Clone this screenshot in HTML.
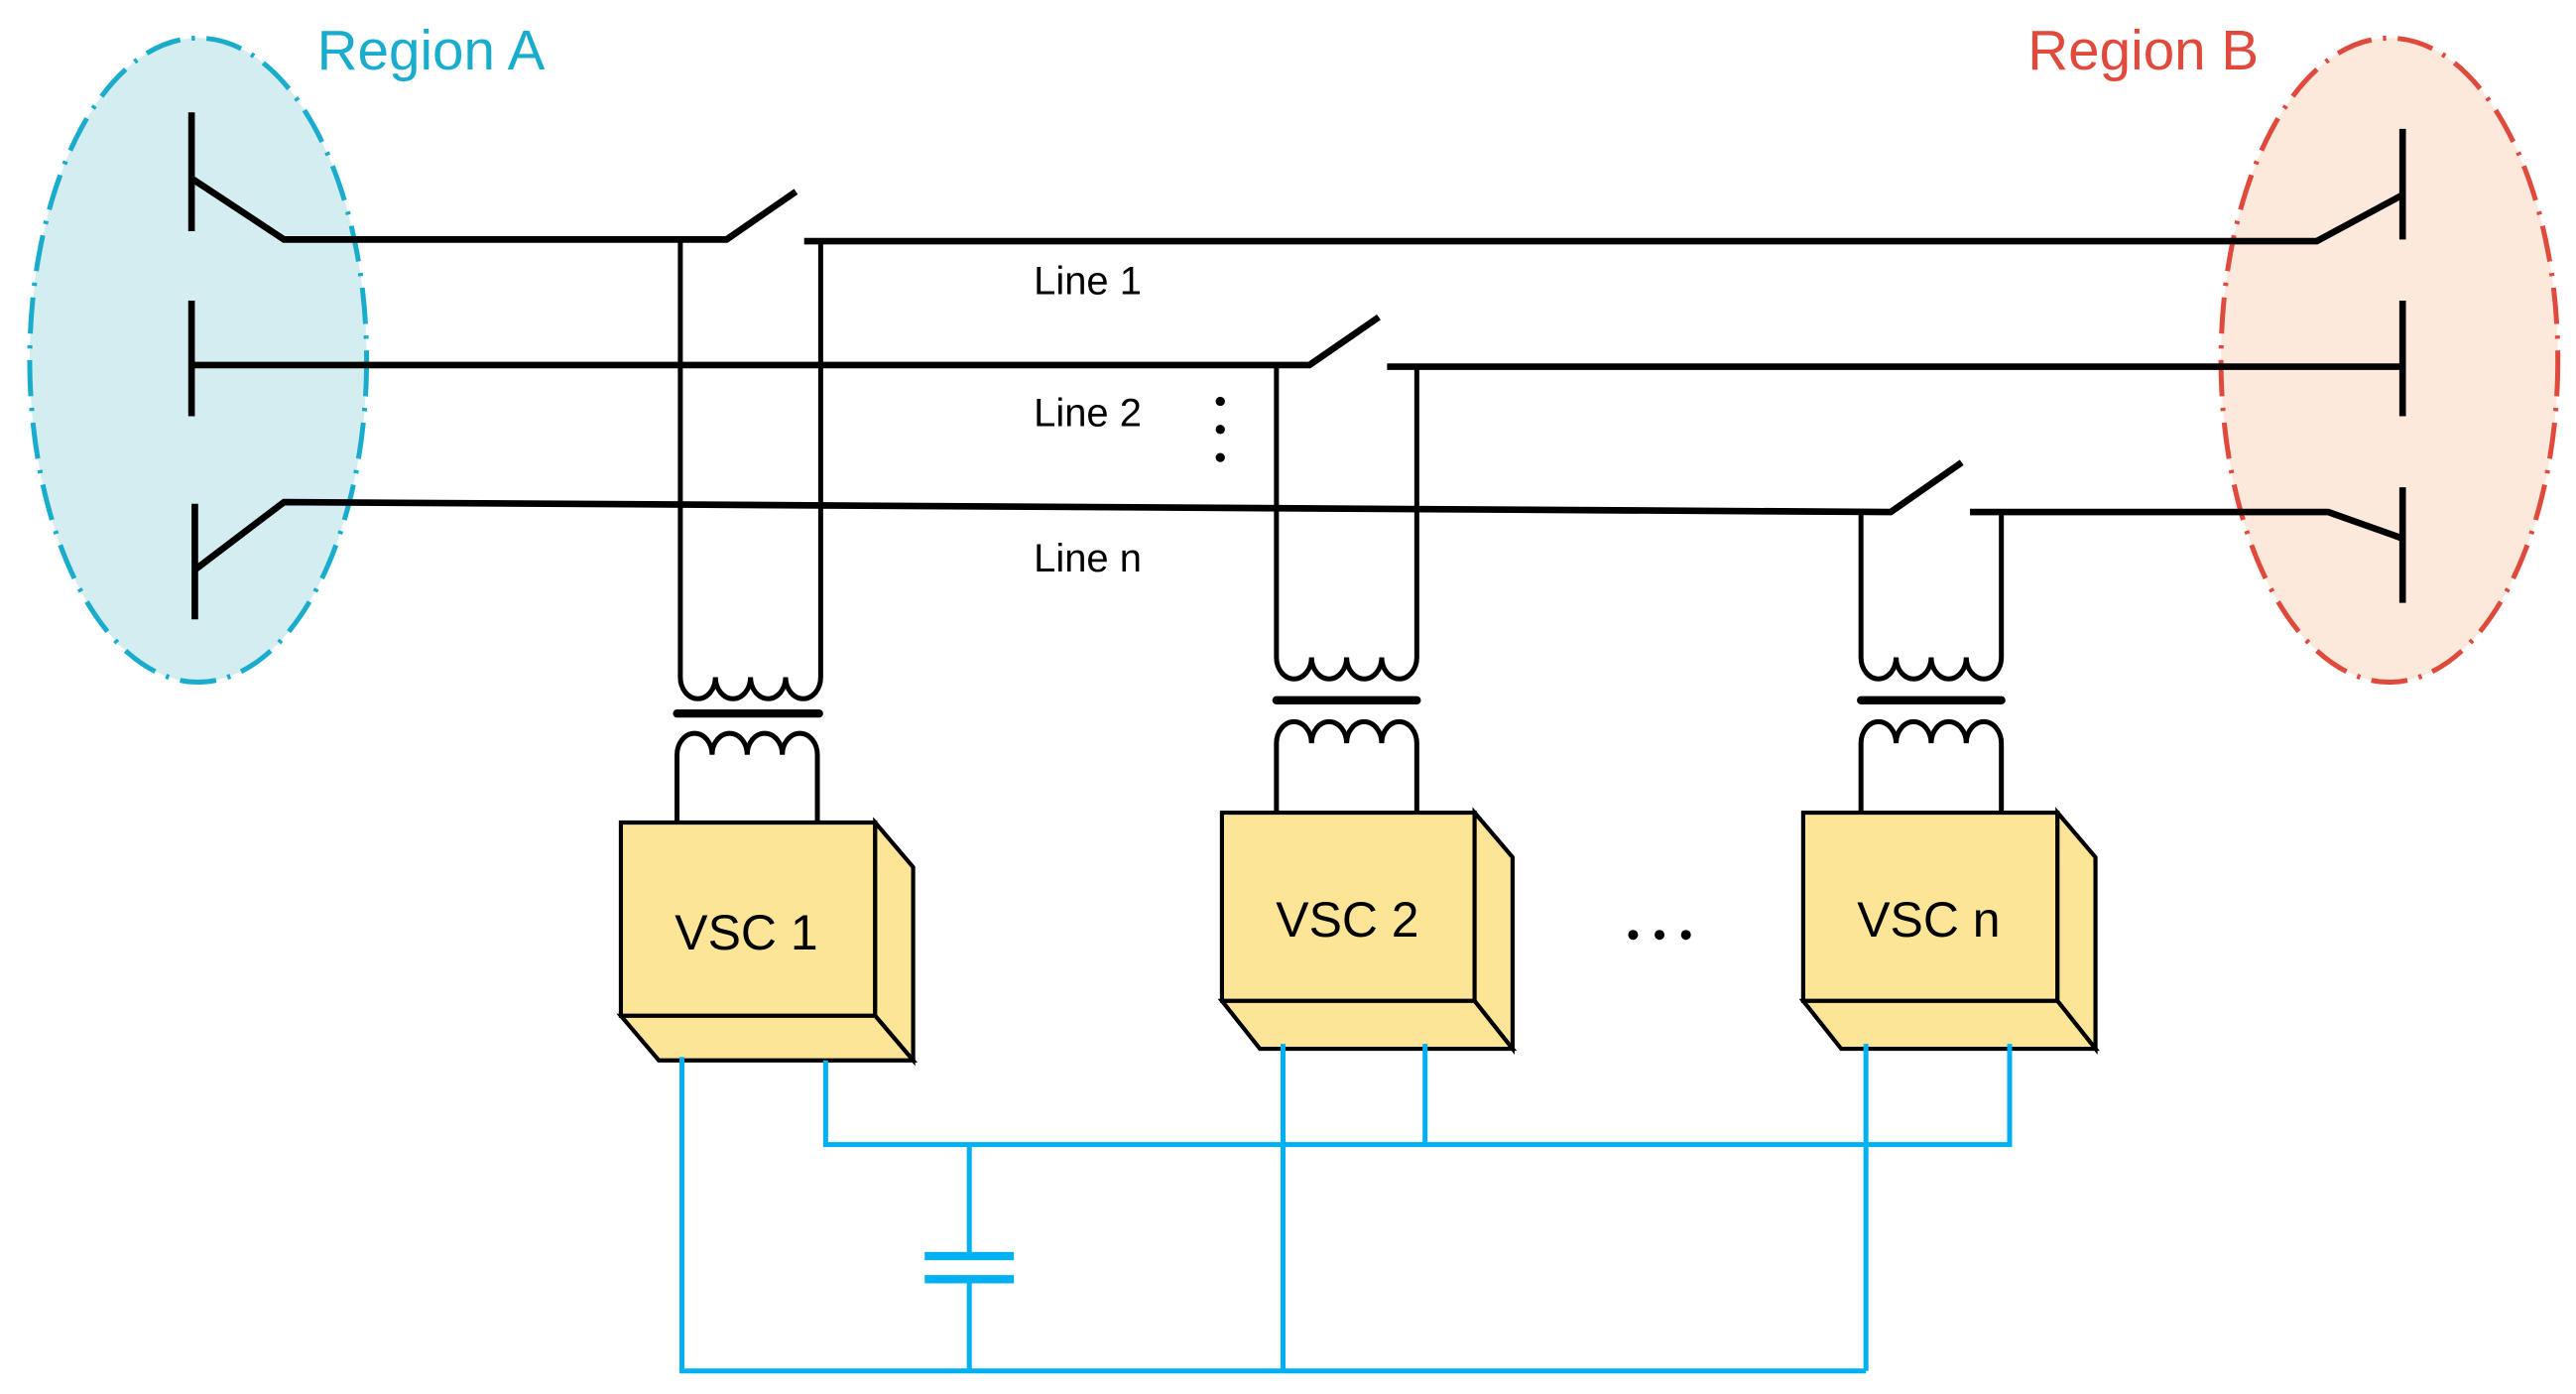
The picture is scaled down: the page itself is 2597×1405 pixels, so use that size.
<!DOCTYPE html>
<html><head><meta charset="utf-8"><style>
html,body{margin:0;padding:0;background:#fff}
svg{display:block}
text{font-family:"Liberation Sans",sans-serif}
</style></head><body>
<svg width="2597" height="1405" viewBox="0 0 1560 844" preserveAspectRatio="none" xmlns="http://www.w3.org/2000/svg">
<ellipse cx="120" cy="218" rx="102" ry="195" fill="#d3edf1" stroke="#1aaccc" stroke-width="3" stroke-dasharray="22,7,2,7"/>
<ellipse cx="1447" cy="218" rx="102" ry="195" fill="#fde9dc" stroke="#e04a3c" stroke-width="3" stroke-dasharray="22,7,2,7"/>
<text x="192" y="42" font-size="34" fill="#1aaccc">Region A</text>
<text x="1228" y="42" font-size="34" fill="#e04a3c">Region B</text>
<g stroke="#000" stroke-width="4" fill="none" stroke-linecap="butt">
<path d="M116 68V140M116 182V252M118 305V375M1455 78V145M1455 182V252M1455 295V365"/>
<path d="M116 108L172 145H440L482 116M487 146H497M497 146H1403L1455 118"/>
<path d="M116 221H793L835 192M840 222H860M860 222H1455"/>
<path d="M118 345L172 304L1145 310L1188 280M1193 310H1410L1455 326"/>
</g>
<g stroke="#000" stroke-width="3" fill="none">
<path d="M412 146V410a10.6 13 0 0 0 21.25 0a10.6 13 0 0 0 21.25 0a10.6 13 0 0 0 21.25 0a10.6 13 0 0 0 21.25 0V146"/>
<path d="M410 498V457a10.6 13 0 0 1 21.25 0a10.6 13 0 0 1 21.25 0a10.6 13 0 0 1 21.25 0a10.6 13 0 0 1 21.25 0V498"/>
<path d="M773 222V398a10.6 13 0 0 0 21.25 0a10.6 13 0 0 0 21.25 0a10.6 13 0 0 0 21.25 0a10.6 13 0 0 0 21.25 0V222"/>
<path d="M773 492V450a10.6 13 0 0 1 21.25 0a10.6 13 0 0 1 21.25 0a10.6 13 0 0 1 21.25 0a10.6 13 0 0 1 21.25 0V492"/>
<path d="M1127 310V398a10.6 13 0 0 0 21.25 0a10.6 13 0 0 0 21.25 0a10.6 13 0 0 0 21.25 0a10.6 13 0 0 0 21.25 0V310"/>
<path d="M1127 492V450a10.6 13 0 0 1 21.25 0a10.6 13 0 0 1 21.25 0a10.6 13 0 0 1 21.25 0a10.6 13 0 0 1 21.25 0V492"/>
</g>
<g stroke="#000" stroke-width="5" stroke-linecap="round">
<path d="M410 432H496M773 424H858M1127 424H1212"/>
</g>
<g fill="#fde598" stroke="#000" stroke-width="2.5" stroke-linejoin="miter">
<path d="M376 498H530V615H376Z"/><path d="M530 498L553 525V642L530 615Z"/><path d="M376 615H530L553 642H399Z"/>
<path d="M740 492H893V606H740Z"/><path d="M893 492L916 519V635L893 606Z"/><path d="M740 606H893L916 635H763Z"/>
<path d="M1092 492H1246V606H1092Z"/><path d="M1246 492L1269 519V635L1246 606Z"/><path d="M1092 606H1246L1269 635H1115Z"/>
</g>
<g font-size="30" fill="#000" text-anchor="middle">
<text x="452" y="575">VSC 1</text>
<text x="816" y="567">VSC 2</text>
<text x="1168" y="567">VSC n</text>
</g>
<g fill="#000"><circle cx="989" cy="566" r="3"/><circle cx="1005" cy="566" r="3"/><circle cx="1021" cy="566" r="3"/></g>
<g font-size="24" fill="#000">
<text x="626" y="178">Line 1</text>
<text x="626" y="258">Line 2</text>
<text x="626" y="346">Line n</text>
</g>
<g fill="#000"><circle cx="739" cy="243" r="2.8"/><circle cx="739" cy="260" r="2.8"/><circle cx="739" cy="277" r="2.8"/></g>
<g stroke="#00b0f0" stroke-width="3" fill="none">
<path d="M413 640V830H1130M500 642V693H1217V632M777 632V830M863 632V693M1130 632V830M587 693V760M587 775V830"/>
</g>
<g fill="#00b0f0"><rect x="560" y="758" width="54" height="5"/><rect x="560" y="772" width="54" height="5"/></g>
</svg>
</body></html>
